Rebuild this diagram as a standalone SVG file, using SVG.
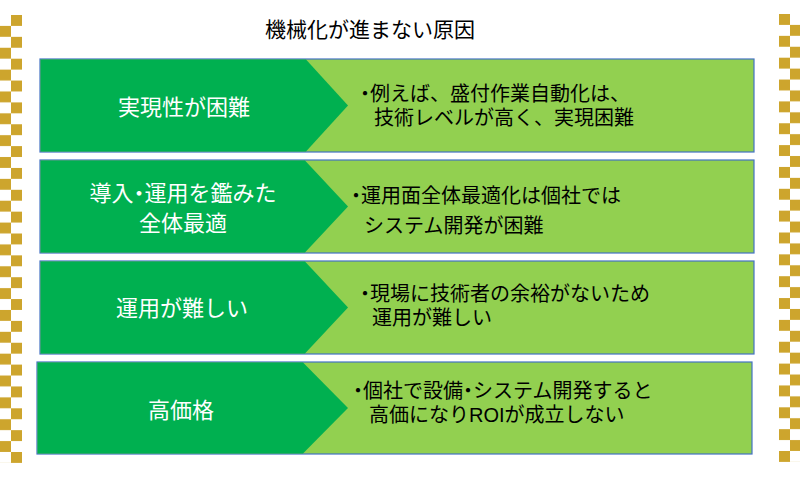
<svg xmlns="http://www.w3.org/2000/svg" width="800" height="477" viewBox="0 0 800 477">
<defs>
<style>
.lt{fill:#92D050;stroke:#4472C4;stroke-width:1.2}
.dk{fill:#00B050}
.lbl{font-family:"Liberation Sans","Noto Sans CJK JP",sans-serif;font-size:22px;fill:#FFFFFF;text-anchor:middle}
.desc{font-family:"Liberation Sans","Noto Sans CJK JP",sans-serif;font-size:20px;fill:#000000}
.ttl{font-family:"Liberation Sans","Noto Sans CJK JP",sans-serif;font-size:21px;fill:#000000}
.b{font-feature-settings:"palt"}
</style>
<pattern id="chkL" patternUnits="userSpaceOnUse" x="0" y="15" width="22" height="21.85">
<rect x="11" y="0" width="11" height="10.9" fill="#CDA52D"/>
<rect x="0" y="10.9" width="11" height="10.9" fill="#CDA52D"/>
</pattern>
<pattern id="chkR" patternUnits="userSpaceOnUse" x="779" y="14" width="21" height="21.85">
<rect x="0" y="0" width="11" height="10.9" fill="#CDA52D"/>
<rect x="11" y="10.9" width="10" height="10.9" fill="#CDA52D"/>
</pattern>
</defs>
<rect width="800" height="477" fill="#FFFFFF"/>
<g id="border-left"><rect x="0" y="15" width="22" height="448" fill="url(#chkL)"/></g>
<g id="border-right"><rect x="779" y="14" width="21" height="448" fill="url(#chkR)"/></g>
<g id="title"><text class="ttl" x="265" y="37">機械化が進まない原因</text></g>
<g id="connectors"></g>
<g id="row1">
<rect class="lt" x="40" y="59" width="714" height="93"/>
<polygon class="dk" points="40.6,59.6 306,59.6 348,105.5 306,151.4 40.6,151.4"/>
<text class="lbl" x="184" y="115">実現性が困難</text>
<text class="desc" x="360" y="101"><tspan class="b">・</tspan>例えば、盛付作業自動化は、<tspan x="374" y="125">技術レベルが高く、実現困難</tspan></text>
</g>
<g id="row2">
<rect class="lt" x="40" y="160" width="714" height="93"/>
<polygon class="dk" points="40.6,160.6 305,160.6 348,206.5 305,252.4 40.6,252.4"/>
<text class="lbl" x="183" y="201">導入<tspan class="b">・</tspan>運用を鑑みた<tspan x="183" y="231">全体最適</tspan></text>
<text class="desc" x="351" y="203"><tspan class="b">・</tspan>運用面全体最適化は個社では<tspan x="364" y="233">システム開発が困難</tspan></text>
</g>
<g id="row3">
<rect class="lt" x="40" y="261" width="714" height="93"/>
<polygon class="dk" points="40.6,261.6 305,261.6 348,307.5 305,353.4 40.6,353.4"/>
<text class="lbl" x="182" y="316">運用が難しい</text>
<text class="desc" x="360" y="301"><tspan class="b">・</tspan>現場に技術者の余裕がないため<tspan x="372" y="325">運用が難しい</tspan></text>
</g>
<g id="row4">
<rect class="lt" x="37" y="362" width="715" height="92"/>
<polygon class="dk" points="37.6,362.6 303,362.6 348,408 303,453.4 37.6,453.4"/>
<text class="lbl" x="181" y="418">高価格</text>
<text class="desc" x="353" y="398"><tspan class="b">・</tspan>個社で設備<tspan class="b">・</tspan>システム開発すると<tspan x="369" y="422">高価になりROIが成立しない</tspan></text>
</g>
</svg>
